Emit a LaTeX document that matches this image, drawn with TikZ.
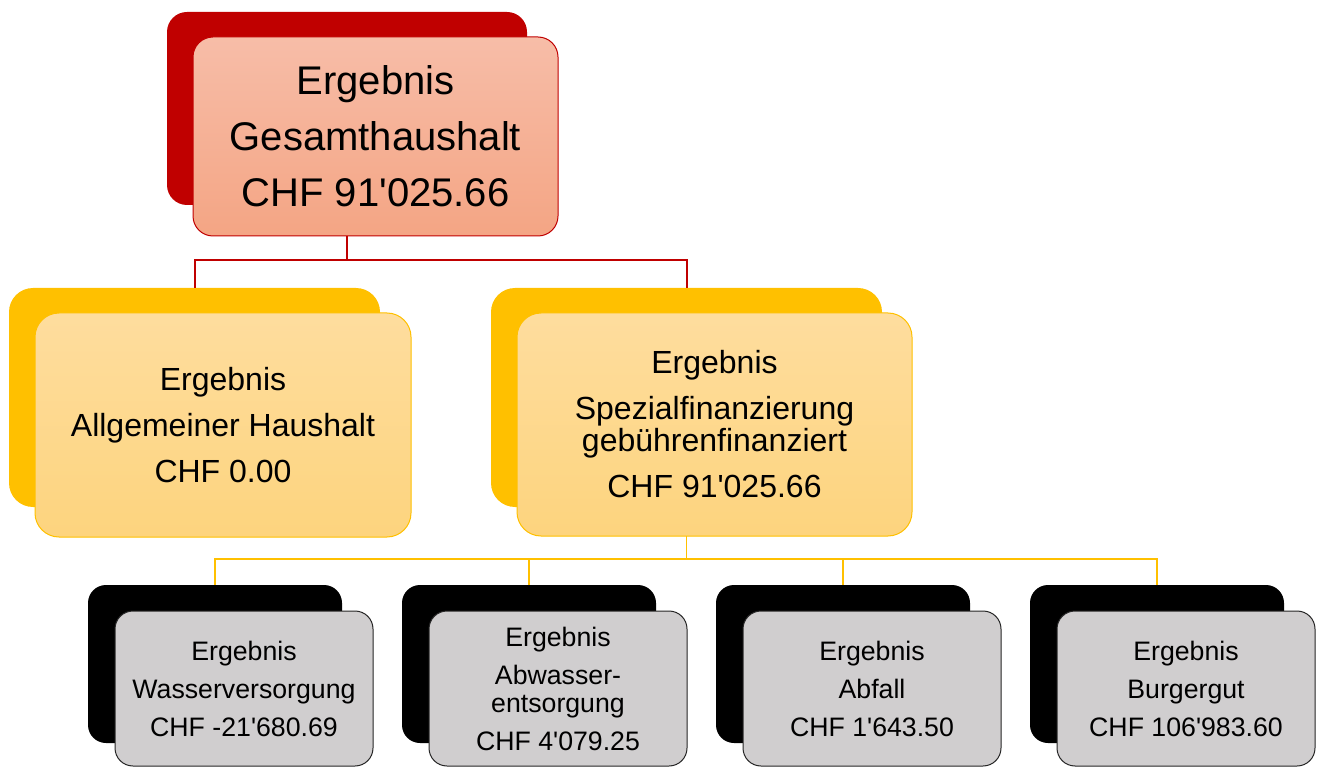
\documentclass[tikz,border=0pt]{standalone}
\usepackage{fontspec}
\setmainfont{Liberation Sans}[Ligatures=TeXOff]
\definecolor{cred}{HTML}{C00000}
\definecolor{credtop}{HTML}{F7BDA8}
\definecolor{credbot}{HTML}{F4A584}
\definecolor{cyel}{HTML}{FFC000}
\definecolor{cyeltop}{HTML}{FEDD9E}
\definecolor{cyelbot}{HTML}{FDD47E}
\definecolor{cgrey}{HTML}{D0CECF}
\definecolor{cgreyline}{HTML}{262626}
\begin{document}
\begin{tikzpicture}[x=1pt,y=-1pt,
  card/.style={rectangle, inner sep=0pt, align=center, text=black},
  redback/.style={card, fill=cred, rounded corners=20pt},
  redfront/.style={card, draw=cred, line width=1pt, top color=credtop, bottom color=credbot, rounded corners=20pt,
     font=\fontsize{40}{56}\selectfont},
  yelback/.style={card, fill=cyel, rounded corners=24pt},
  yelfront/.style={card, draw=cyel, line width=1pt, top color=cyeltop, bottom color=cyelbot, rounded corners=24pt,
     font=\fontsize{32}{46}\selectfont},
  greyback/.style={card, fill=black, rounded corners=18pt, minimum width=254pt, minimum height=158pt},
  greyfront/.style={card, draw=cgreyline, line width=1pt, fill=cgrey, rounded corners=18pt,
     minimum width=258pt, minimum height=155pt, font=\fontsize{26.7}{38}\selectfont},
  redline/.style={draw=cred, line width=2pt},
  yelline/.style={draw=cyel, line width=1.5pt}
]
\useasboundingbox (0,0) rectangle (1318,767);
% back cards
\node[redback, minimum width=360pt, minimum height=193pt] (topb) at (347,108.5) {};
\node[yelback, minimum width=371pt, minimum height=219pt] (midLb) at (194.5,397.5) {};
\node[yelback, minimum width=391pt, minimum height=219pt] (midRb) at (686.5,397.5) {};
\node[greyback] (b1b) at (215,664) {};
\node[greyback] (b2b) at (529,664) {};
\node[greyback] (b3b) at (843,664) {};
\node[greyback] (b4b) at (1157,664) {};
% connectors
\coordinate (j1) at (347,260);
\coordinate (j2) at (686.5,559);
\draw[redline] (topb.south) |- (j1) -| (midLb.north);
\draw[redline] (j1) -| (midRb.north);
\draw[yelline] (midRb.south) |- (j2) -| (b1b.north);
\draw[yelline] (j2) -| (b2b.north);
\draw[yelline] (j2) -| (b3b.north);
\draw[yelline] (j2) -| (b4b.north);
% front cards
\node[redfront, minimum width=365pt, minimum height=199pt] (top) at (375.5,136.5)
  {Ergebnis\\Gesamthaushalt\\CHF 91'025.66};
\node[yelfront, minimum width=376pt, minimum height=224pt] (midL) at (223,425)
  {Ergebnis\\Allgemeiner Haushalt\\CHF 0.00};
\node[yelfront, minimum width=395pt, minimum height=223pt] (midR) at (714.5,424.5)
  {Ergebnis\\Spezialfinanzierung\\[-14pt]gebührenfinanziert\\CHF 91'025.66};
\node[greyfront] (b1) at (244,688.5) {Ergebnis\\Wasserversorgung\\CHF -21'680.69};
\node[greyfront] (b2) at (558,688.5) {Ergebnis\\Abwasser-\\[-10pt]entsorgung\\CHF 4'079.25};
\node[greyfront] (b3) at (872,688.5) {Ergebnis\\Abfall\\CHF 1'643.50};
\node[greyfront] (b4) at (1186,688.5) {Ergebnis\\Burgergut\\CHF 106'983.60};
\end{tikzpicture}
\end{document}
